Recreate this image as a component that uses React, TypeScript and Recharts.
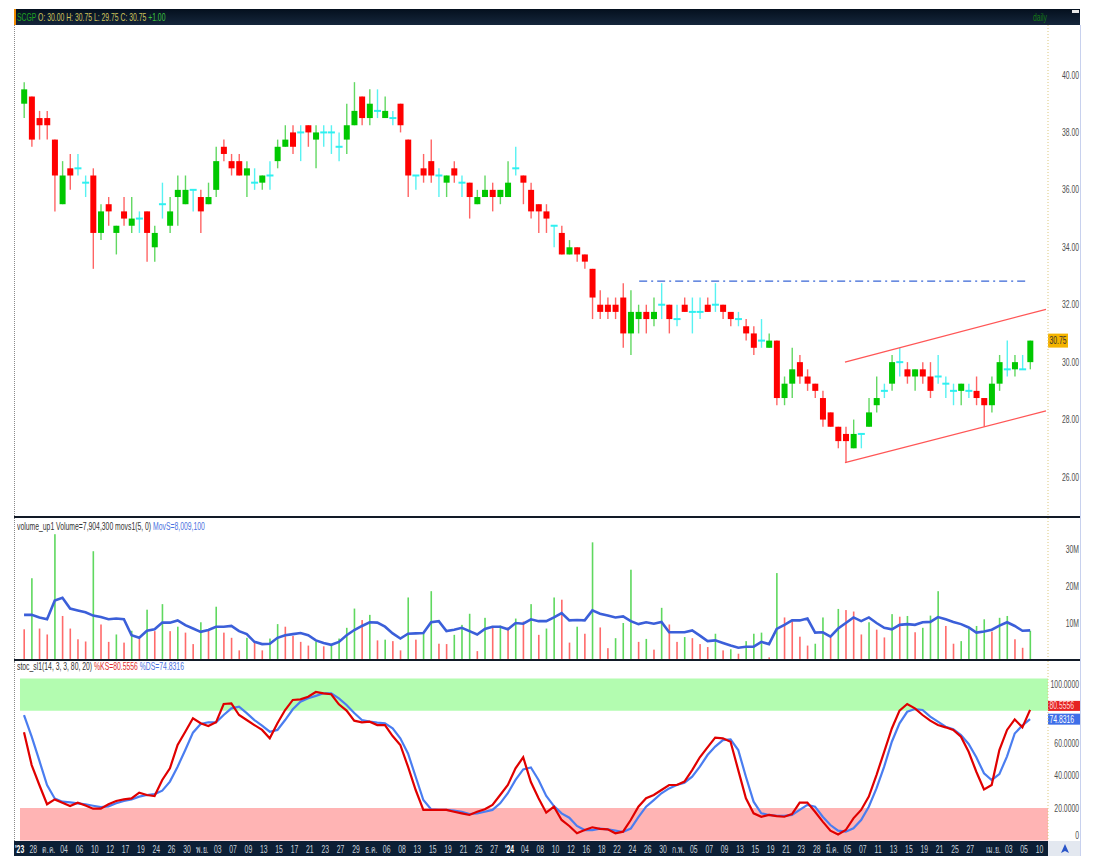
import React from 'react';
import { ComposedChart, Bar, Line, XAxis, YAxis, ReferenceLine, ReferenceArea } from 'recharts';

// SCGP daily, 26 Sep 2023 .. 5 Apr 2024
const opens = [
  39, 39.25, 38.5, 38.5, 37.75, 35.5, 36.75, 36.75, 36.25, 36.5, 34.5, 35.5, 34.5, 35.25, 34.75, 35, 35.25, 34, 35.5, 34.75,
  35.75, 35.5, 36, 35.75, 35.5, 36, 37.5, 37, 37, 36.5, 36.25, 36.25, 36.5, 37, 37.5, 38, 38, 38.25, 37.75, 38,
  38, 37.5, 37.75, 38.25, 39.25, 38.5, 38.75, 38.5, 38.5, 39, 37.75, 36.5, 36.75, 37, 36.5, 36.25, 36.75, 36.25, 36.25, 35.5,
  35.75, 36, 35.75, 35.75, 36.75, 36.5, 36, 35.5, 35.25, 34.75, 34.5, 33.75, 34, 33.75, 33.25, 32, 32, 32, 32.25, 31,
  31.5, 31.75, 31.5, 32, 32, 31.5, 32, 31.75, 31.75, 32, 32, 32, 31.75, 31.5, 31.25, 31, 30.75, 30.5, 30.75, 28.75,
  29.25, 30, 29.5, 29.25, 28.75, 28.25, 27.75, 27.5, 27, 27.5, 27.75, 28.5, 29, 29.25, 30, 29.75, 29.5, 29.75, 29.5, 29.5,
  29.25, 29, 29, 29, 29, 28.75, 28.5, 29.25, 29.75, 29.75, 29.75, 30,
];
const highs = [
  39.75, 39.25, 38.75, 38.75, 37.75, 37, 37.25, 37.25, 36.5, 36.75, 35.5, 35.75, 34.75, 35.75, 35.75, 35.25, 35.25, 34.75, 36.25, 35.75,
  36.5, 36.5, 36, 36, 36.25, 37.5, 37.75, 37.25, 37.25, 37, 36.75, 36.5, 37, 37.75, 38.25, 38.25, 38.25, 38.25, 38.25, 38.25,
  38.25, 38, 39, 39.75, 39.25, 39.5, 39.5, 39.25, 38.75, 39, 37.75, 36.5, 37.25, 37.75, 36.75, 36.5, 37, 36.5, 36.25, 36,
  36.5, 36.25, 36, 37, 37.5, 36.5, 36.25, 35.5, 35.5, 34.75, 34.75, 34.25, 34, 33.75, 33.25, 32.5, 32.25, 32.25, 32.75, 32.5,
  32, 32, 32.25, 32.75, 32, 32, 32.25, 32.25, 32.25, 32.25, 32.75, 32, 31.75, 31.75, 31.5, 31.25, 31.5, 31, 30.75, 29.5,
  30.5, 30.25, 29.75, 29.25, 29, 28.25, 27.75, 27.75, 28, 27.5, 28.75, 29.5, 29.25, 30.25, 30.5, 30, 29.75, 30, 30, 30.25,
  29.5, 29.25, 29.25, 29.25, 29.5, 28.75, 29.5, 30.25, 30.75, 30.25, 30.25, 30.75,
];
const lows = [
  38.5, 37.5, 37.75, 37.75, 35.25, 35.5, 36, 36.5, 35.75, 33.25, 34.25, 34.75, 33.75, 34.75, 34.5, 34.5, 33.5, 33.5, 35, 34.5,
  34.75, 35.5, 35.25, 34.5, 35.5, 35.75, 37, 36.5, 36.5, 35.75, 36, 36, 36, 36.75, 37.5, 37.25, 37, 37.5, 36.75, 37.5,
  37.25, 37, 37.25, 38.25, 38.25, 38.25, 38.5, 38.5, 38.25, 38, 35.75, 36, 36.25, 36.25, 35.75, 35.75, 36.25, 35.75, 35, 35.5,
  35.75, 35.25, 35.5, 35.75, 36.5, 35.5, 35, 34.5, 34.5, 34, 33.75, 33.75, 33.5, 33.25, 31.5, 31.5, 31.5, 31.5, 30.5, 30.25,
  31, 31, 31.25, 31.5, 31, 31.25, 31.75, 31, 31.5, 31.75, 31.75, 31.5, 31.25, 31.25, 30.75, 30.25, 30.5, 30.5, 28.5, 28.5,
  28.75, 29.25, 29, 28.75, 27.75, 27.75, 27, 26.5, 27, 27, 27.75, 28.25, 28.75, 29, 29.5, 29.25, 29, 29.25, 28.75, 29.25,
  28.75, 28.5, 28.5, 28.75, 28.5, 27.75, 28.25, 29, 29.5, 29.5, 29.75, 29.75,
];
const closes = [
  39.5, 37.75, 38.25, 38.25, 36.5, 36.5, 36.5, 36.75, 36.25, 34.5, 35.25, 35.25, 34.75, 35, 35, 35, 34.5, 34.5, 35.5, 35.25,
  36, 36, 36, 35.25, 35.75, 37, 37.25, 36.75, 36.5, 36.75, 36.25, 36.5, 36.5, 37.5, 37.75, 37.5, 38, 38, 38, 38,
  38, 37.5, 38.25, 38.75, 38.5, 39, 38.75, 38.75, 38.5, 38.25, 36.5, 36.5, 36.5, 36.5, 36.5, 36.5, 36.5, 36.25, 35.75, 35.75,
  36, 35.75, 36, 36.25, 36.75, 36.25, 35.25, 35.25, 35, 34.75, 33.75, 34, 33.75, 33.5, 32.25, 31.75, 31.75, 31.75, 31, 31.75,
  31.75, 31.5, 31.75, 32, 31.5, 31.5, 31.75, 31.75, 31.75, 31.75, 32, 31.75, 31.5, 31.5, 31, 30.5, 30.75, 30.75, 28.75, 29.25,
  29.75, 29.5, 29.25, 29, 28, 27.75, 27.25, 27.25, 27.5, 27.5, 28.25, 28.75, 29, 30, 30, 29.5, 29.75, 29.5, 29, 29.5,
  29.25, 29, 29.25, 29, 28.75, 28.5, 29.25, 30, 29.75, 30, 29.75, 30.75,
];

// volume in millions of shares, MovS = 5 day average as plotted
const volumes = [
  8.3, 22.1, 8.5, 6.9, 34.0, 11.9, 8.5, 5.6, 5.0, 29.4, 9.6, 4.9, 6.9, 4.7, 7.9, 5.8, 13.6, 7.8, 15.1, 7.8,
  9.0, 7.4, 4.3, 10.2, 8.3, 14.4, 7.4, 6.0, 2.6, 6.0, 4.9, 2.6, 5.8, 9.7, 9.0, 6.5, 4.9, 3.9, 5.0, 3.7,
  3.9, 5.8, 8.7, 13.9, 10.8, 12.2, 5.3, 5.5, 5.1, 2.6, 16.9, 5.5, 7.1, 18.6, 4.4, 4.3, 6.8, 9.5, 12.5, 2.4,
  11.4, 9.2, 9.3, 8.8, 11.2, 10.4, 15.1, 6.8, 8.5, 16.9, 16.3, 4.7, 9.0, 7.1, 31.8, 8.8, 3.2, 5.9, 10.0, 24.4,
  4.9, 5.7, 2.8, 14.1, 9.6, 4.9, 6.2, 5.9, 4.3, 3.5, 7.1, 2.6, 2.9, 1.7, 5.1, 7.1, 7.4, 0.7, 23.5, 11.5,
  10.5, 6.3, 3.9, 4.4, 11.5, 6.1, 13.8, 13.5, 13.1, 6.9, 10.2, 8.2, 6.1, 12.4, 11.7, 11.9, 7.5, 8.7, 12.0, 18.6,
  9.2, 4.4, 5.1, 8.4, 9.2, 11.0, 7.7, 11.4, 11.9, 5.6, 3.3, 7.9,
];
const movS = [
  12.2, 12.2, 11.5, 11.0, 16.1, 16.8, 13.9, 13.4, 12.9, 12.0, 11.6, 11.0, 11.2, 11.0, 6.7, 6.0, 7.9, 8.3, 10.1, 10.1,
  10.7, 9.4, 8.5, 7.6, 8.1, 9.0, 9.0, 9.2, 7.8, 7.0, 4.9, 4.3, 4.4, 6.0, 6.7, 7.0, 7.3, 6.7, 5.3, 4.6,
  4.1, 4.9, 6.7, 8.1, 9.2, 10.2, 10.1, 9.0, 7.2, 5.8, 7.1, 7.2, 7.3, 10.2, 10.5, 7.8, 8.2, 8.7, 7.8, 6.9,
  8.4, 9.0, 9.0, 8.3, 10.0, 9.8, 11.0, 10.5, 10.5, 11.5, 12.7, 10.7, 10.8, 10.7, 13.4, 12.5, 12.0, 11.5, 11.8, 10.5,
  9.7, 10.2, 9.8, 10.3, 7.5, 7.5, 7.5, 8.0, 6.6, 5.1, 5.3, 4.6, 3.9, 3.3, 3.6, 3.6, 4.9, 4.3, 8.4, 9.5,
  10.7, 10.7, 11.2, 7.4, 7.5, 6.3, 8.5, 10.0, 11.5, 10.5, 11.5, 10.0, 8.7, 8.3, 9.5, 9.7, 9.5, 10.2, 10.3, 11.6,
  11.0, 10.3, 9.7, 8.8, 7.4, 7.7, 8.2, 9.3, 10.2, 9.2, 7.9, 8.0,
];

// slow stochastic (14, 3, 3)
const stochK = [
  66.8, 46.5, 34.2, 22.3, 25.3, 23.3, 21.2, 23.3, 21.6, 19.6, 19.6, 22.3, 24.3, 25.3, 25.9, 29.5, 28.0, 27.4, 37.3, 44.5,
  58.9, 67.1, 75.4, 72.3, 70.6, 72.9, 84.2, 84.6, 77.4, 74.3, 71.2, 68.2, 63.0, 72.3, 80.5, 86.7, 87.1, 88.7, 91.6, 90.8,
  90.2, 84.0, 80.1, 73.9, 72.9, 73.3, 71.2, 71.2, 64.4, 58.9, 45.5, 31.1, 18.8, 18.8, 18.8, 18.8, 17.7, 16.7, 15.7, 17.7,
  19.2, 21.9, 28.0, 34.2, 44.5, 51.3, 36.0, 26.0, 17.1, 20.8, 12.6, 8.9, 4.4, 6.4, 8.1, 7.1, 6.8, 4.4, 5.4, 12.6,
  20.8, 26.0, 28.0, 31.1, 34.2, 34.2, 36.3, 43.4, 51.3, 57.4, 63.4, 63.0, 60.9, 43.4, 26.0, 16.7, 14.6, 15.7, 15.0, 14.6,
  16.3, 23.3, 23.3, 17.7, 11.6, 6.0, 3.7, 6.4, 13.6, 18.8, 27.0, 40.3, 54.7, 69.1, 80.1, 84.2, 81.5, 77.4, 73.9, 71.2,
  69.8, 68.2, 64.0, 54.7, 42.4, 31.5, 34.2, 55.8, 68.2, 74.7, 69.8, 80.56,
];
const stochD = [
  77.4, 64.0, 49.2, 34.2, 25.9, 23.9, 23.5, 22.9, 22.3, 21.4, 20.6, 21.0, 22.9, 24.3, 25.3, 27.0, 28.0, 28.6, 30.7, 36.3,
  45.5, 55.8, 66.5, 71.8, 72.9, 72.9, 77.4, 81.5, 82.5, 78.6, 74.3, 70.8, 67.1, 68.2, 74.3, 80.9, 85.6, 87.7, 89.2, 90.8,
  90.8, 87.7, 83.6, 78.6, 74.3, 73.3, 72.7, 72.3, 69.2, 63.0, 53.7, 39.3, 24.9, 19.2, 18.8, 18.8, 18.4, 17.7, 16.3, 16.7,
  17.7, 18.8, 22.9, 29.1, 37.3, 43.8, 45.0, 37.3, 27.4, 21.2, 16.7, 14.0, 8.9, 6.4, 6.4, 7.3, 6.8, 6.0, 5.2, 7.3,
  14.4, 20.8, 24.9, 29.1, 32.1, 34.2, 35.6, 39.3, 45.5, 52.7, 57.9, 61.9, 62.4, 55.8, 39.3, 23.9, 16.7, 15.7, 15.2, 15.2,
  15.7, 18.8, 21.9, 20.8, 14.6, 9.5, 6.0, 5.4, 7.5, 12.6, 20.8, 32.1, 45.5, 60.9, 72.3, 79.4, 81.1, 80.5, 76.4, 73.3,
  70.2, 68.6, 65.0, 59.5, 51.3, 41.4, 37.3, 40.9, 51.9, 66.0, 71.0, 74.83,
];

// date labels: candle index -> label (two sessions apart, restarting each month)
const dateTickIdx = [
  0, 2, 4, 6, 8, 10, 12, 14, 16, 18, 20, 22, 24, 26, 28, 30, 32, 34, 36, 38, 40, 42, 44, 46, 48, 50, 52, 54, 56, 58, 60, 62,
  64, 66, 68, 70, 72, 74, 76, 78, 80, 82, 84, 86, 88, 90, 92, 94, 96, 98, 100, 102, 104, 106, 108, 110, 112, 114, 116, 118,
  120, 122, 124, 127, 129, 131, 133,
];
const dateTickLabels = [
  "'23", '28', 'ต.ค.', '04', '06', '10', '12', '17', '19', '24', '26', '30', 'พ.ย.', '03', '07', '09', '13', '15', '17', '21',
  '23', '27', '29', 'ธ.ค.', '06', '08', '13', '15', '19', '21', '25', '27', "'24", '04', '08', '10', '12', '16', '18', '22',
  '24', '26', '30', 'ก.พ.', '05', '07', '09', '13', '15', '19', '21', '23', '28', 'มี.ค.', '05', '07', '11', '13', '15', '19',
  '21', '25', '27', 'เม.ย.', '03', '05', '10',
];

const priceTicks = [26, 28, 30, 32, 34, 36, 38, 40];
const volTicks = [10, 20, 30];
const stochTicks = [0, 20, 40, 60, 100];

// drawn studies (candle index, price)
const upperChannel = [{ x: 106.9, y: 30.0 }, { x: 133.07, y: 31.84 }];
const lowerChannel = [{ x: 106.9, y: 26.5 }, { x: 133.07, y: 28.3 }];
const resistance = [{ x: 80.1, y: 32.82 }, { x: 130.6, y: 32.82 }];

const rows = opens.map((o, i) => ({
  i,
  open: o,
  high: highs[i],
  low: lows[i],
  close: closes[i],
  vol: volumes[i],
  volUp: i > 0 && volumes[i] > volumes[i - 1],
  movs: movS[i],
  k: stochK[i],
  d: stochD[i],
}));

const FONT = '"Liberation Sans", Arial, sans-serif';
const W = 1066;
const PLOT_W = 1034;
const STEP = 7.68;
const XMIN = -10 / STEP;
const XMAX = XMIN + PLOT_W / STEP;
const PAD = { left: 6.2, right: 14 };
const SQ = 0.65;

function NText({ x, y, anchor = 'end', fill = '#4d4d4d', size = 10.5, weight = 'normal', children }: any) {
  return (
    <text
      transform={`translate(${x},${y}) scale(${SQ},1)`}
      textAnchor={anchor}
      dominantBaseline="central"
      fontFamily={FONT}
      fontSize={size}
      fontWeight={weight}
      fill={fill}
    >
      {children}
    </text>
  );
}

const Candle = (props: any) => {
  const { x, y, width, height, payload } = props;
  const { open, close, high, low } = payload;
  const top = Math.min(y, y + height);
  const h = Math.abs(height);
  const cx = x + width / 2;
  const ppu = h / (high - low || 1);
  const yOf = (v: number) => top + (high - v) * ppu;
  const flat = open === close;
  const up = close > open;
  const wick = flat ? '#58f2f2' : up ? '#62d862' : '#ff6464';
  const body = flat ? '#2ef0f0' : up ? '#00c800' : '#ff0000';
  const bt = yOf(Math.max(open, close));
  const bb = yOf(Math.min(open, close));
  return (
    <g>
      <line x1={cx} x2={cx} y1={top} y2={top + h} stroke={wick} strokeWidth={1.4} />
      {flat ? (
        <line x1={cx - 3.5} x2={cx + 3.5} y1={bt} y2={bt} stroke={body} strokeWidth={2} />
      ) : (
        <rect x={cx - 3} y={bt} width={6} height={Math.max(bb - bt, 1.5)} fill={body} />
      )}
    </g>
  );
};

const VolBar = (props: any) => {
  const { x, y, width, height, payload } = props;
  const cx = x + width / 2;
  return <rect x={cx - 0.8} y={y} width={1.6} height={height} fill={payload.volUp ? '#5fd85f' : '#ff6b6b'} />;
};

const PriceTick = (p: any) => (
  <NText x={W - 1} y={p.y}>
    {Number(p.payload.value).toFixed(2)}
  </NText>
);
const VolTick = (p: any) => (
  <NText x={W - 1} y={p.y}>
    {p.payload.value}M
  </NText>
);
const StochTick = (p: any) => {
  const v = p.payload.value;
  const dy = v === 100 ? 6.5 : v === 0 ? -4.5 : 0;
  return (
    <NText x={W - 1} y={p.y + dy}>
      {v === 0 ? '0' : v.toFixed(4)}
    </NText>
  );
};
const DateTick = (p: any) => {
  const n = dateTickIdx.indexOf(p.payload.value);
  const label = dateTickLabels[n] ?? '';
  const year = label.startsWith("'");
  const first = n === 0;
  return (
    <NText
      x={first ? 1 : p.x - 6}
      y={188}
      anchor={first ? 'start' : 'middle'}
      fill={year ? '#ffffff' : '#c9d1da'}
      weight={year ? 'bold' : 'normal'}
    >
      {label}
    </NText>
  );
};

const tagLabel = (text: string, fill: string, color: string, w: number, h: number, dy: number) => (p: any) => {
  const vb = p.viewBox || {};
  const rx = (vb.x ?? 0) + (vb.width ?? 0);
  const cy = (vb.y ?? 0) + dy;
  return (
    <g>
      <rect x={rx} y={cy - h / 2} width={w} height={h} fill={fill} />
      <NText x={rx + 1.5} y={cy} anchor="start" fill={color}>
        {text}
      </NText>
    </g>
  );
};

const DARK = '#121a27';

export default function App() {
  return (
    <div style={{ position: 'absolute', left: 0, top: 0, width: 1096, height: 856, background: '#fff', overflow: 'hidden', fontFamily: FONT }}>
      {/* header */}
      <div
        style={{
          position: 'absolute', left: 14, top: 9, width: W, height: 16,
          background: 'linear-gradient(#04101e, #15263b)', borderLeft: '2px solid #f08a00', boxSizing: 'border-box',
        }}
      />
      <div style={{ position: 'absolute', left: 17, top: 10, fontSize: 10.5, lineHeight: '14px', whiteSpace: 'nowrap', transform: `scaleX(${SQ})`, transformOrigin: 'left' }}>
        <span style={{ color: '#1fa21f' }}>SCGP </span>
        <span style={{ color: '#cfc35a' }}>O: 30.00 H: 30.75 L: 29.75 C: 30.75 </span>
        <span style={{ color: '#3cc23c' }}>+1.00</span>
      </div>
      <div style={{ position: 'absolute', left: 1033, top: 10, fontSize: 10.5, lineHeight: '14px', color: '#157a15', transform: `scaleX(${SQ})`, transformOrigin: 'left' }}>daily</div>
      <div style={{ position: 'absolute', left: 1072, top: 10, width: 7, height: 3, background: '#e8e8e8' }} />

      {/* price */}
      <div style={{ position: 'absolute', left: 14, top: 25, width: 1, height: 491, borderLeft: '1px dotted #8a8a8a' }} />
      <div style={{ position: 'absolute', left: 14, top: 25 }}>
        <ComposedChart width={W} height={491} data={rows} margin={{ top: 0, right: 0, bottom: 0, left: 0 }} barCategoryGap={0} barGap={0}>
          <XAxis dataKey="i" type="category" hide padding={PAD} />
          <XAxis xAxisId="n" dataKey="i" type="number" hide domain={[XMIN, XMAX]} allowDataOverflow />
          <YAxis
            orientation="right" width={32} domain={[24.642, 41.741]} allowDataOverflow ticks={priceTicks}
            tick={PriceTick} tickLine={false} axisLine={{ stroke: '#dcc77c', strokeDasharray: '1 2' }}
          />
          <Bar dataKey={(d: any) => [d.low, d.high]} shape={Candle} isAnimationActive={false} />
          <ReferenceLine xAxisId="n" segment={resistance} stroke="#3866d6" strokeWidth={1.4} strokeDasharray="8 4 2 4" />
          <ReferenceLine xAxisId="n" segment={upperChannel} stroke="#ff5656" strokeWidth={1.3} />
          <ReferenceLine xAxisId="n" segment={lowerChannel} stroke="#ff5656" strokeWidth={1.3} />
          <ReferenceLine y={closes[closes.length - 1]} strokeOpacity={0} label={tagLabel('30.75', '#f5b400', '#333', 20, 14, 0)} />
        </ComposedChart>
      </div>
      <div style={{ position: 'absolute', left: 14, top: 516, width: W, height: 2, background: DARK }} />

      {/* volume */}
      <div style={{ position: 'absolute', left: 14, top: 518, width: 1, height: 141, borderLeft: '1px dotted #8a8a8a' }} />
      <div style={{ position: 'absolute', left: 14, top: 518 }}>
        <ComposedChart width={W} height={142} data={rows} margin={{ top: 0, right: 0, bottom: 0, left: 0 }} barCategoryGap={0} barGap={0}>
          <XAxis dataKey="i" type="category" hide padding={PAD} />
          <YAxis
            orientation="right" width={32} domain={[0, 38.38]} allowDataOverflow ticks={volTicks}
            tick={VolTick} tickLine={false} axisLine={{ stroke: '#dcc77c', strokeDasharray: '1 2' }}
          />
          <Bar dataKey="vol" shape={VolBar} isAnimationActive={false} />
          <Line dataKey="movs" stroke="#3b5fd9" strokeWidth={2.6} dot={false} isAnimationActive={false} />
        </ComposedChart>
      </div>
      <div style={{ position: 'absolute', left: 17, top: 519, fontSize: 10.5, lineHeight: '14px', whiteSpace: 'nowrap', transform: `scaleX(${SQ})`, transformOrigin: 'left' }}>
        <span style={{ color: '#333' }}>volume_up1 Volume=7,904,300 movs1(5, 0) </span>
        <span style={{ color: '#4a72e0' }}>MovS=8,009,100</span>
      </div>
      <div style={{ position: 'absolute', left: 14, top: 659, width: W, height: 2, background: DARK }} />

      {/* stochastic */}
      <div style={{ position: 'absolute', left: 14, top: 841, width: PLOT_W, height: 15, background: '#0c1f35' }} />
      <div style={{ position: 'absolute', left: 1048, top: 841, width: 32, height: 15, background: '#e3e8f0' }} />
      <svg style={{ position: 'absolute', left: 1060, top: 844 }} width={10} height={10}>
        <polygon points="5,0 9,9 5,7 1,9" fill="#2a55c8" />
      </svg>
      <div style={{ position: 'absolute', left: 14, top: 661, width: 1, height: 180, borderLeft: '1px dotted #8a8a8a' }} />
      <div style={{ position: 'absolute', left: 14, top: 661 }}>
        <ComposedChart width={W} height={195} data={rows} margin={{ top: 0, right: 0, bottom: 0, left: 0 }}>
          <XAxis
            dataKey="i" type="number" domain={[XMIN, XMAX]} allowDataOverflow ticks={dateTickIdx} interval={0}
            height={15} tick={DateTick} tickLine={false} axisLine={false}
          />
          <YAxis
            orientation="right" width={32} domain={[-0.37, 110.74]} allowDataOverflow ticks={stochTicks}
            tick={StochTick} tickLine={false} axisLine={{ stroke: '#dcc77c', strokeDasharray: '1 2' }}
          />
          <ReferenceArea x1={-0.52} x2={XMAX} y1={80} y2={100} fill="#b3fcb0" fillOpacity={1} strokeOpacity={0} />
          <ReferenceArea x1={-0.52} x2={XMAX} y1={0} y2={20} fill="#ffb4b4" fillOpacity={1} strokeOpacity={0} />
          <Line dataKey="d" stroke="#4a7df0" strokeWidth={2.2} dot={false} isAnimationActive={false} />
          <Line dataKey="k" stroke="#e00000" strokeWidth={2.2} dot={false} isAnimationActive={false} />
          <ReferenceLine y={80.5556} strokeOpacity={0} label={tagLabel('80.5556', '#e52222', '#ffd6d6', 32, 10, -4)} />
          <ReferenceLine y={74.8316} strokeOpacity={0} label={tagLabel('74.8316', '#3f6fe8', '#ffffff', 32, 11, 0)} />
        </ComposedChart>
      </div>
      <div style={{ position: 'absolute', left: 17, top: 659, fontSize: 10.5, lineHeight: '14px', whiteSpace: 'nowrap', transform: `scaleX(${SQ})`, transformOrigin: 'left' }}>
        <span style={{ color: '#333' }}>stoc_sl1(14, 3, 3, 80, 20) </span>
        <span style={{ color: '#e03030' }}>%KS=80.5556 </span>
        <span style={{ color: '#4a72e0' }}>%DS=74.8316</span>
      </div>

      {/* right frame */}
      <div style={{ position: 'absolute', left: 1080, top: 25, width: 1, height: 831, background: '#c8d1ee' }} />
    </div>
  );
}
